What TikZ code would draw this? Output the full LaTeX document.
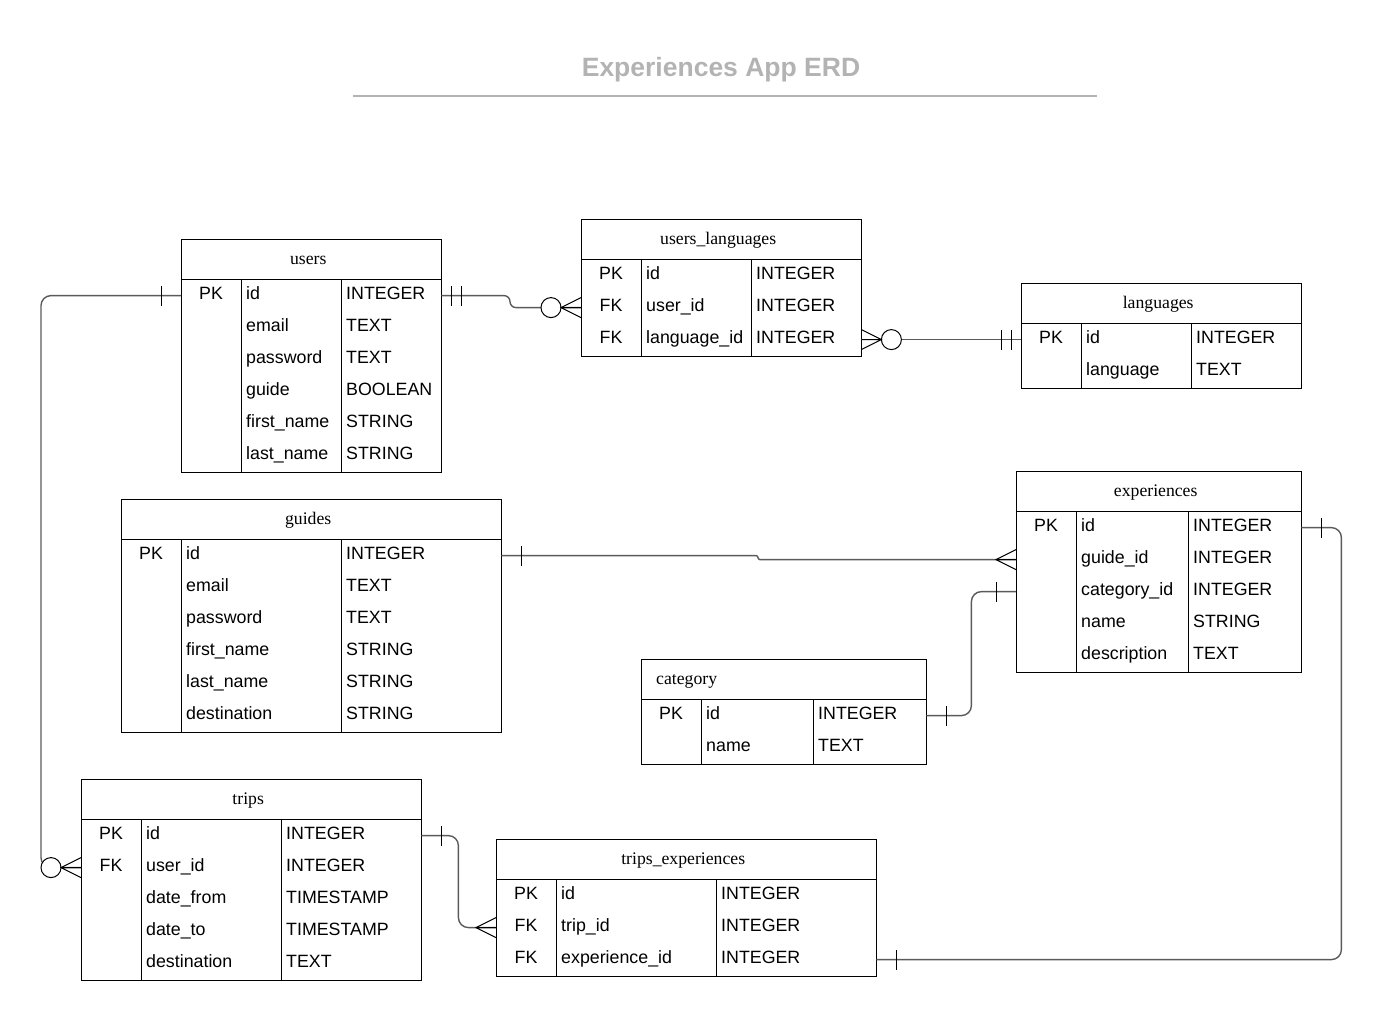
\documentclass[tikz,border=0pt]{standalone}
\usepackage{fontspec}
\setmainfont{Liberation Sans}
\newfontfamily\headfont{Liberation Serif}
\usepackage{xcolor}

\definecolor{titlegray}{HTML}{B3B3B3}
\definecolor{linkgray}{HTML}{5A5A5A}

\tikzset{
    tblhead/.style={draw, minimum height=40pt, inner sep=0pt, text height=12pt, text depth=2pt,
        font=\headfont\fontsize{17.7}{20}\selectfont},
    tblrow/.style={minimum height=32pt, inner sep=0pt},
    celltext/.style={inner sep=0pt, text height=12.7pt, text depth=4pt,
        font=\fontsize{17.8}{20}\selectfont},
    fieldtext/.style={celltext, anchor=west},
    title/.style={inner sep=0pt, text=titlegray, font=\bfseries\fontsize{26.5}{30}\selectfont},
    titlerule/.style={draw=titlegray, line width=2pt},
    conn/.style={draw=linkgray, line width=1.4pt},
    endmark/.style={draw=black, line width=1pt},
    one/.pic={\draw[endmark] (-20,-10) -- (-20,10);},
    two/.pic={\draw[endmark] (-10,-10) -- (-10,10) (-20,-10) -- (-20,10);},
    many/.pic={\draw[endmark] (0,-10) -- (-20,0) -- (0,10) (-20,0) -- (0,0);},
    zeromany/.pic={
        \draw[endmark, fill=white] (-30,0) circle[radius=10pt];
        \draw[endmark] (0,-10) -- (-20,0) -- (0,10) (-20,0) -- (0,0);
    },
}

% #1 head options, #2 name, #3 top left, #4 width, #5/#6 column widths, #7 title, #8 rows
\newcommand{\erdtable}[8][]{
    \node[tblhead, minimum width=#4, anchor=north west, #1] (#2) at (#3) {#7\hspace*{6pt}};
    \foreach \fkey/\fname/\ftype [count=\i] in {#8} {
        \node[tblrow, minimum width=#4, anchor=north west] (#2-\i) at ([yshift=-32*(\i-1)]#2.south west) {};
        \node[celltext] at ([xshift=#5/2]#2-\i.west) {\fkey};
        \node[fieldtext] at ([xshift=#5+5]#2-\i.west) {\fname};
        \node[fieldtext] at ([xshift=#5+#6+5]#2-\i.west) {\ftype};
        \xdef\lastrow{\i}
    }
    \draw (#2.south west) rectangle (#2-\lastrow.south east);
    \draw ([xshift=#5]#2.south west) -- ([xshift=#5]#2-\lastrow.south west);
    \draw ([xshift=#5+#6]#2.south west) -- ([xshift=#5+#6]#2-\lastrow.south west);
}

\begin{document}
\begin{tikzpicture}[x=1pt, y=-1pt]
    \useasboundingbox (0,0) rectangle (1382,1019);

    \node[title] (title) at (721,70) {Experiences App ERD};
    \draw[titlerule] (353,96) -- (1097,96);

    % tables
    \erdtable{users}{181,239}{260}{60}{100}{users}{PK/id/INTEGER, {}/email/TEXT, {}/password/TEXT,
        {}/guide/BOOLEAN, {}/first\_name/STRING, {}/last\_name/STRING}
    \erdtable{userslang}{581,219}{280}{60}{110}{users\_languages}{PK/id/INTEGER,
        FK/user\_id/INTEGER, FK/language\_id/INTEGER}
    \erdtable{languages}{1021,283}{280}{60}{110}{languages}{PK/id/INTEGER, {}/language/TEXT}
    \erdtable{experiences}{1016,471}{285}{60}{112}{experiences}{PK/id/INTEGER, {}/guide\_id/INTEGER,
        {}/category\_id/INTEGER, {}/name/STRING, {}/description/TEXT}
    \erdtable{guides}{121,499}{380}{60}{160}{guides}{PK/id/INTEGER, {}/email/TEXT, {}/password/TEXT,
        {}/first\_name/STRING, {}/last\_name/STRING, {}/destination/STRING}
    \erdtable[inner xsep=15pt, text width=255pt, align=left]{category}{641,659}{285}{60}{112}{category}{PK/id/INTEGER,
        {}/name/TEXT}
    \erdtable{trips}{81,779}{340}{60}{140}{trips}{PK/id/INTEGER, FK/user\_id/INTEGER,
        {}/date\_from/TIMESTAMP, {}/date\_to/TIMESTAMP, {}/destination/TEXT}
    \erdtable{tripsexp}{496,839}{380}{60}{160}{trips\_experiences}{PK/id/INTEGER,
        FK/trip\_id/INTEGER, FK/experience\_id/INTEGER}

    % links
    \draw[conn, rounded corners=10pt] (users-1.west) -| ([xshift=-40]trips-2.west) [sharp corners] -- (trips-2.west);
    \draw[conn, rounded corners=6pt] (users-1.east) -| ([xshift=-71]userslang-2.west) -- (userslang-2.west);
    \draw[conn] (userslang-3.east) -- (languages-1.west);
    \draw[conn, rounded corners=2pt] (guides-1.east) -| ([xshift=-258]experiences-2.west) -- (experiences-2.west);
    \draw[conn, rounded corners=10pt] (category-1.east) -- ++(45,0) |- (experiences-3.west);
    \draw[conn, rounded corners=10pt] (experiences-1.east) -- ++(40,0) |- (tripsexp-3.east);
    \draw[conn, rounded corners=10pt] (trips-1.east) -- ++(37,0) |- (tripsexp-2.west);

    % link ends
    \pic at (users-1.west) {one};
    \pic at (trips-2.west) {zeromany};
    \pic[rotate=180] at (users-1.east) {two};
    \pic at (userslang-2.west) {zeromany};
    \pic[rotate=180] at (userslang-3.east) {zeromany};
    \pic at (languages-1.west) {two};
    \pic[rotate=180] at (guides-1.east) {one};
    \pic at (experiences-2.west) {many};
    \pic[rotate=180] at (category-1.east) {one};
    \pic at (experiences-3.west) {one};
    \pic[rotate=180] at (experiences-1.east) {one};
    \pic[rotate=180] at (tripsexp-3.east) {one};
    \pic[rotate=180] at (trips-1.east) {one};
    \pic at (tripsexp-2.west) {many};
\end{tikzpicture}
\end{document}
